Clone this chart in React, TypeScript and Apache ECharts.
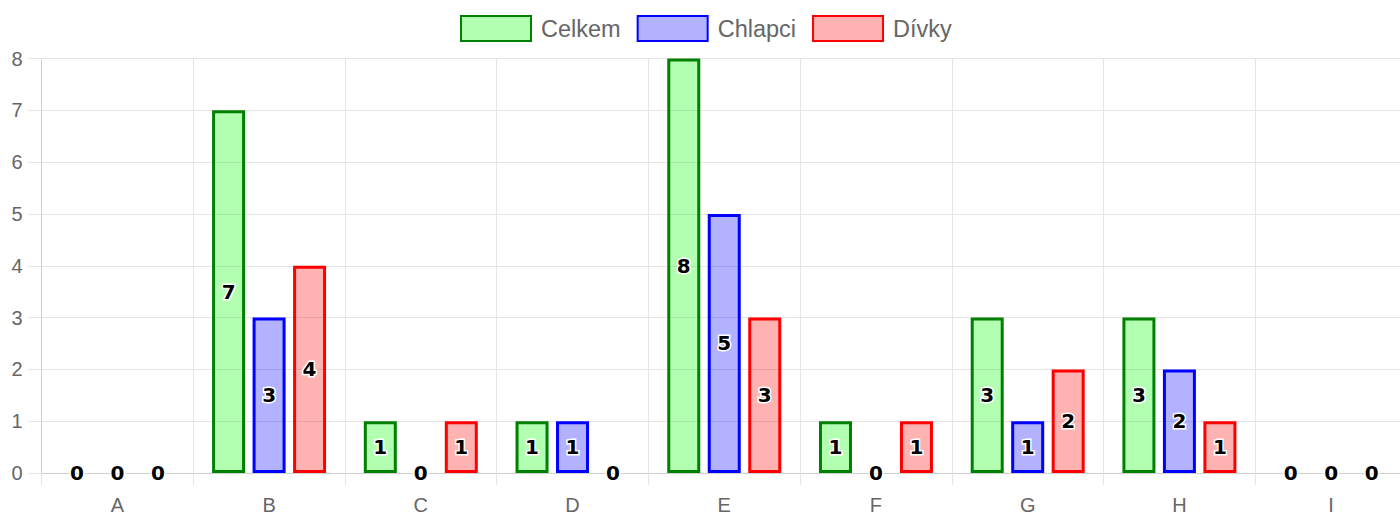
import React, { useEffect, useRef } from "react";
import * as echarts from "echarts";

const categories = ["A", "B", "C", "D", "E", "F", "G", "H", "I"];
const celkem = [0, 7, 1, 1, 8, 1, 3, 3, 0];
const chlapci = [0, 3, 0, 1, 5, 0, 1, 2, 0];
const divky = [0, 4, 1, 0, 3, 1, 2, 1, 0];
const yTicks = { min: 0, max: 8, interval: 1 };

const seriesDefs = [
  { name: "Celkem", data: celkem, fill: "rgba(0,255,0,0.3)", stroke: "#008000" },
  { name: "Chlapci", data: chlapci, fill: "rgba(0,0,255,0.3)", stroke: "#0000ff" },
  { name: "Dívky", data: divky, fill: "rgba(255,0,0,0.3)", stroke: "#ff0000" },
];

const GRID = "#e5e5e5";
const AXIS = "#d0d0d0";

export default function App() {
  const ref = useRef<HTMLDivElement>(null);
  useEffect(() => {
    if (!ref.current) return;
    const chart = echarts.init(ref.current, null, { renderer: "svg" });
    chart.setOption({
      animation: false,
      legend: {
        top: 10,
        left: 455,
        itemWidth: 70,
        itemHeight: 25,
        itemGap: 16,
        icon: "rect",
        textStyle: {
          color: "#666",
          fontSize: 23.5,
          fontFamily: "Liberation Sans, Arial, sans-serif",
          padding: [0, 0, 0, 5],
        },
        data: seriesDefs.map((s) => s.name),
      },
      grid: { left: 41.5, top: 58.5, bottom: 40.3, right: 0, containLabel: false },
      xAxis: {
        type: "category",
        data: categories,
        axisLine: { show: true, lineStyle: { color: AXIS, width: 1 } },
        axisTick: { show: true, length: 12, interval: 0, lineStyle: { color: GRID } },
        splitLine: { show: true, interval: 0, lineStyle: { color: GRID } },
        axisLabel: {
          color: "#666",
          fontSize: 20,
          margin: 22,
          fontFamily: "Liberation Sans, Arial, sans-serif",
        },
      },
      yAxis: {
        type: "value",
        min: yTicks.min,
        max: yTicks.max,
        interval: yTicks.interval,
        axisLine: { show: true, lineStyle: { color: AXIS, width: 1 } },
        axisTick: { show: true, length: 13, lineStyle: { color: GRID } },
        splitLine: { show: true, lineStyle: { color: GRID } },
        axisLabel: {
          color: "#666",
          fontSize: 20,
          margin: 19,
          fontFamily: "Liberation Sans, Arial, sans-serif",
        },
      },
      series: seriesDefs.map((s) => ({
        type: "bar",
        name: s.name,
        barWidth: 33,
        barGap: "22.7%",
        itemStyle: { color: s.fill, borderColor: s.stroke, borderWidth: 3 },
        label: {
          show: true,
          position: "inside",
          color: "#000",
          fontWeight: "bold",
          fontSize: 20,
          fontFamily: "DejaVu Sans, sans-serif",
          textBorderColor: "#fff",
          textBorderWidth: 3,
        },
        data: s.data.map((v) => (v === 0 ? { value: v, itemStyle: { borderWidth: 0 } } : v)),
      })),
    });
    return () => chart.dispose();
  }, []);
  return (
    <div style={{ position: "absolute", left: 0, top: 0, width: 1400, height: 515, overflow: "hidden" }}>
      <div ref={ref} style={{ width: 1407, height: 515 }} />
    </div>
  );
}
